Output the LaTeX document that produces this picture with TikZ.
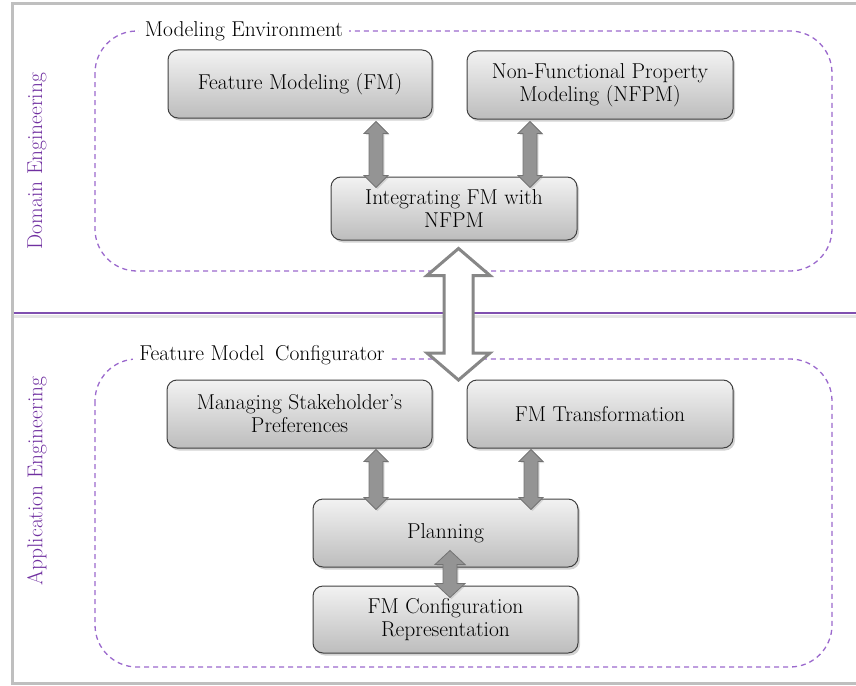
\documentclass[tikz,border=0pt]{standalone}
\usetikzlibrary{shadows,calc}
\definecolor{dpurple}{RGB}{155,105,205}
\definecolor{lpurple}{RGB}{112,48,160}
\definecolor{hpurple}{RGB}{128,80,176}
\newcommand\mainfnt{\fontsize{21.5}{23}\selectfont}
\newcommand\vdarrow[6]{%
  \path[#1] let \p1=(#2), \p2=(#3) in
    (\x1,\y1) -- (\x1+#5,\y1-#6) -- (\x1+#4,\y1-#6) -- (\x1+#4,\y2+#6) --
    (\x1+#5,\y2+#6) -- (\x1,\y2) -- (\x1-#5,\y2+#6) -- (\x1-#4,\y2+#6) --
    (\x1-#4,\y1-#6) -- (\x1-#5,\y1-#6) -- cycle;}
\tikzset{
  box/.style={draw=black!75, line width=1pt, rounded corners=10pt,
    top color=black!5, bottom color=black!26,
    drop shadow={shadow xshift=2pt, shadow yshift=-2.5pt, opacity=0.35},
    align=center, font=\mainfnt, text=black, inner sep=2pt},
  cont/.style={draw=dpurple, line width=1.3pt, dash pattern=on 5pt off 4pt, rounded corners=42pt},
  contlabel/.style={fill=white, font=\mainfnt, inner xsep=6pt, inner ysep=3pt},
  sidelabel/.style={rotate=90, text=lpurple, font=\mainfnt},
  smallarr/.style={fill=black!42, draw=black!55, line width=0.8pt,
    drop shadow={shadow xshift=1.5pt, shadow yshift=-1.5pt, opacity=0.25}},
  bigarr/.style={fill=white, draw=black!47, line width=3pt, line join=miter}
}
\begin{document}
\begin{tikzpicture}[x=1pt,y=-1pt]
\useasboundingbox (0,0) rectangle (856,685);
% frame
\draw[black!25, line width=3pt] (870,4) -- (12,4) -- (12,683) -- (870,683);
\draw[black!10, line width=3pt] (13.5,316) -- (856,316);
\draw[hpurple, line width=1.5pt] (13.5,313) -- (856,313);
% side labels
\node[sidelabel] (dom) at (37,161) {Domain Engineering};
\node[sidelabel] (app) at (37,481) {Application Engineering};
% containers
\draw[cont] (95,31) rectangle (832,271);
\draw[cont] (95,359) rectangle (832,667);
\node[contlabel] (envl) at (244,31) {Modeling Environment};
\node[contlabel] (cfgl) at (262,355) {Feature Model\enspace Configurator};
% boxes
\node[box, minimum width=264pt, minimum height=68pt] (fm) at (300,84) {Feature Modeling (FM)};
\node[box, minimum width=266pt, minimum height=68pt] (nfpm) at (600,85) {Non-Functional Property\\Modeling (NFPM)};
\node[box, minimum width=246pt, minimum height=63pt] (int) at (454,208.5) {Integrating FM with\\NFPM};
\node[box, minimum width=265pt, minimum height=68pt] (msp) at (299.5,414) {Managing Stakeholder's\\Preferences};
\node[box, minimum width=266pt, minimum height=68pt] (fmt) at (600,414) {FM Transformation};
\node[box, minimum width=265pt, minimum height=68pt] (plan) at (445.5,533) {Planning};
\node[box, minimum width=265pt, minimum height=67pt] (rep) at (445.5,619.5) {FM Configuration\\Representation};
% arrows
\vdarrow{smallarr}{[xshift=76pt,yshift=-3pt]fm.south}{[xshift=-78pt,yshift=-11pt]int.north}{7pt}{12pt}{12pt}
\vdarrow{smallarr}{[xshift=-70pt,yshift=-2pt]nfpm.south}{[xshift=76pt,yshift=-11pt]int.north}{7pt}{12pt}{12pt}
\vdarrow{smallarr}{[xshift=76.5pt,yshift=-1pt]msp.south}{[xshift=-69.5pt,yshift=-11pt]plan.north}{7pt}{12pt}{12pt}
\vdarrow{smallarr}{[xshift=-69pt,yshift=-1pt]fmt.south}{[xshift=85.5pt,yshift=-11pt]plan.north}{7pt}{12pt}{12pt}
\vdarrow{smallarr}{[xshift=4.5pt,yshift=17pt]plan.south}{[xshift=4.5pt,yshift=-12pt]rep.north}{7pt}{15pt}{14pt}
\coordinate (bigtop) at ([xshift=4.5pt,yshift=-8pt]int.south);
\coordinate (bigbot) at (458.5,380);
\vdarrow{bigarr}{bigtop}{bigbot}{14.5pt}{31.5pt}{27pt}
\end{tikzpicture}
\end{document}
